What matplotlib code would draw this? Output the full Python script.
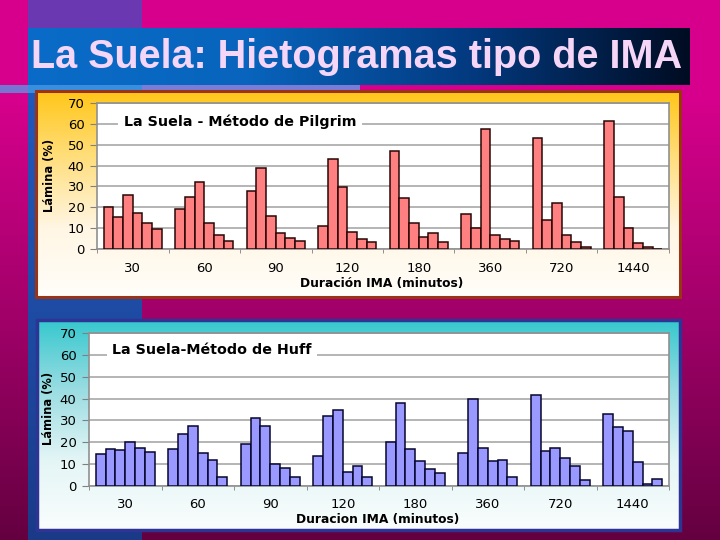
import matplotlib
matplotlib.use("Agg")
import matplotlib.pyplot as plt
import numpy as np
from matplotlib.colors import LinearSegmentedColormap
from matplotlib.patches import Rectangle
from matplotlib.ticker import FixedLocator

W = 720
H = 540
FONT = "DejaVu Sans"

DURATIONS = ["30", "60", "90", "120", "180", "360", "720", "1440"]

# Lámina (%) per interval, 6 intervals per duration
PILGRIM = [
    [20, 15.5, 26, 17.5, 12.5, 9.5],
    [19, 25, 32, 12.5, 6.5, 4],
    [28, 39, 16, 7.5, 5.5, 4],
    [11, 43, 29.5, 8, 5, 3.5],
    [47, 24.5, 12.3, 5.8, 7.7, 3.4],
    [17, 10, 57.5, 6.5, 5, 4],
    [53, 14, 22, 6.5, 3.5, 1],
    [61.5, 25, 10, 3, 1, 0],
]

HUFF = [
    [14.5, 17, 16.5, 20, 17.5, 15.5],
    [17, 24, 27.5, 15, 12, 4.3],
    [19, 31, 27.5, 10, 8.3, 4.3],
    [13.5, 32, 35, 6.3, 9.3, 4.3],
    [20, 38, 17, 11.6, 7.7, 5.8],
    [15, 40, 17.5, 11.6, 12.1, 4.3],
    [41.5, 16, 17.5, 12.7, 9.3, 2.8],
    [33, 27, 25, 11, 1, 3.4],
]


def gradient(ax, x0, y0, x1, y1, colors, horizontal=False, z=1):
    cmap = LinearSegmentedColormap.from_list("g", colors)
    g = np.linspace(0, 1, 256)
    img = g.reshape(1, -1) if horizontal else g.reshape(-1, 1)
    ax.imshow(img, extent=(x0, x1, y1, y0), aspect="auto", cmap=cmap,
              interpolation="bilinear", zorder=z)


def rect(ax, x0, y0, x1, y1, color, z=2, **kw):
    ax.add_patch(Rectangle((x0, y0), x1 - x0, y1 - y0, facecolor=color, zorder=z, **kw))


def px_axes(fig, x0, y0, x1, y1):
    return fig.add_axes([x0 / W, 1 - y1 / H, (x1 - x0) / W, (y1 - y0) / H])


def draw_chart(fig, box, data, color, edge, title, title_xy, xlabel, ylabel_xy, xlabel_xy,
               tick_pad=9.5):
    ax = px_axes(fig, *box)
    ax.set_facecolor("white")
    n = len(data)
    k = len(data[0])
    w = 0.81 / k
    for i, vals in enumerate(data):
        x = i + (np.arange(k) - (k - 1) / 2) * w
        ax.bar(x, vals, width=w, color=color, edgecolor=edge, linewidth=1.1, zorder=3)
    ax.set_xlim(-0.5, n - 0.5)
    ax.set_ylim(0, 70)
    ax.set_yticks(range(0, 71, 10))
    ax.set_xticks(range(n))
    ax.set_xticklabels(DURATIONS, family=FONT)
    ax.xaxis.set_minor_locator(FixedLocator(np.arange(n + 1) - 0.5))
    ax.tick_params(axis="x", which="major", length=0, pad=tick_pad, labelsize=9.5)
    ax.tick_params(axis="x", which="minor", length=3, color="#808080")
    ax.tick_params(axis="y", length=5, pad=4, labelsize=9.5, color="#808080")
    ax.yaxis.grid(True, color="#A8A8A8", linewidth=1.2)
    ax.set_axisbelow(True)
    for s in ax.spines.values():
        s.set_color("#909090")
        s.set_linewidth(1.2)
    fig.text(title_xy[0] / W, 1 - title_xy[1] / H, title, ha="center", va="center",
             fontsize=10.3, fontweight="bold", family=FONT, zorder=5,
             bbox=dict(facecolor="white", edgecolor="none", pad=4))
    fig.text(ylabel_xy[0] / W, 1 - ylabel_xy[1] / H, "Lámina (%)", rotation=90,
             ha="center", va="center", fontsize=8.3, fontweight="bold", family=FONT)
    fig.text(xlabel_xy[0] / W, 1 - xlabel_xy[1] / H, xlabel, ha="center", va="center",
             fontsize=8.8, fontweight="bold", family=FONT)
    return ax


def main():
    fig = plt.figure(figsize=(W / 100, H / 100), dpi=100)
    bg = fig.add_axes([0, 0, 1, 1])
    bg.set_xlim(0, W)
    bg.set_ylim(H, 0)
    bg.axis("off")

    # slide background
    rect(bg, 0, 0, W, 100, "#D6008C", z=0)
    gradient(bg, 0, 100, W, H, ["#D6008C", "#A00068", "#640040"], z=0.5)
    gradient(bg, 28, 85, 142, H, ["#2258BC", "#1E4CA4", "#1A3A88"], z=1)
    rect(bg, 28, 0, 142, 28, "#6A38B0")
    rect(bg, 0, 85, 28, 93, "#7676D2")
    rect(bg, 28, 85, 142, 93, "#3A8EE0")
    rect(bg, 142, 85, 360, 93, "#7A7CD8")

    # title banner
    gradient(bg, 28, 28, 690, 85, ["#0A6CC8", "#0864BC", "#033A80", "#000C22"],
             horizontal=True, z=3)
    bg.text(357, 57, "La Suela: Hietogramas tipo de IMA", ha="center", va="center",
            fontsize=28.5, fontweight="bold", color="#F6D6F6",
            family=["Liberation Sans", "DejaVu Sans"], zorder=4)

    # chart boxes
    gradient(bg, 36, 91, 680, 297, ["#FFC618", "#FFDF80", "#FFF6E4", "#FFFEFA"], z=3)
    rect(bg, 36, 91, 680, 297, "none", z=4, edgecolor="#9A3414", linewidth=2.2)
    gradient(bg, 37, 320, 680, 530, ["#36C8CE", "#9ADDE2", "#E4F5F6", "#FAFDFD"], z=3)
    rect(bg, 37, 320, 680, 530, "none", z=4, edgecolor="#2E3494", linewidth=2.5)

    draw_chart(fig, (97, 103, 669, 249), PILGRIM, "#FF8080", "#2A0606",
               "La Suela - Método de Pilgrim", (240, 122),
               "Duración IMA (minutos)", (50, 175), (382, 284))
    draw_chart(fig, (89, 333, 669, 486), HUFF, "#9999FF", "#06062E",
               "La Suela-Método de Huff", (212, 350),
               "Duracion IMA (minutos)", (49, 408), (378, 520), tick_pad=8.5)

    fig.savefig("out.png", dpi=100)


main()
